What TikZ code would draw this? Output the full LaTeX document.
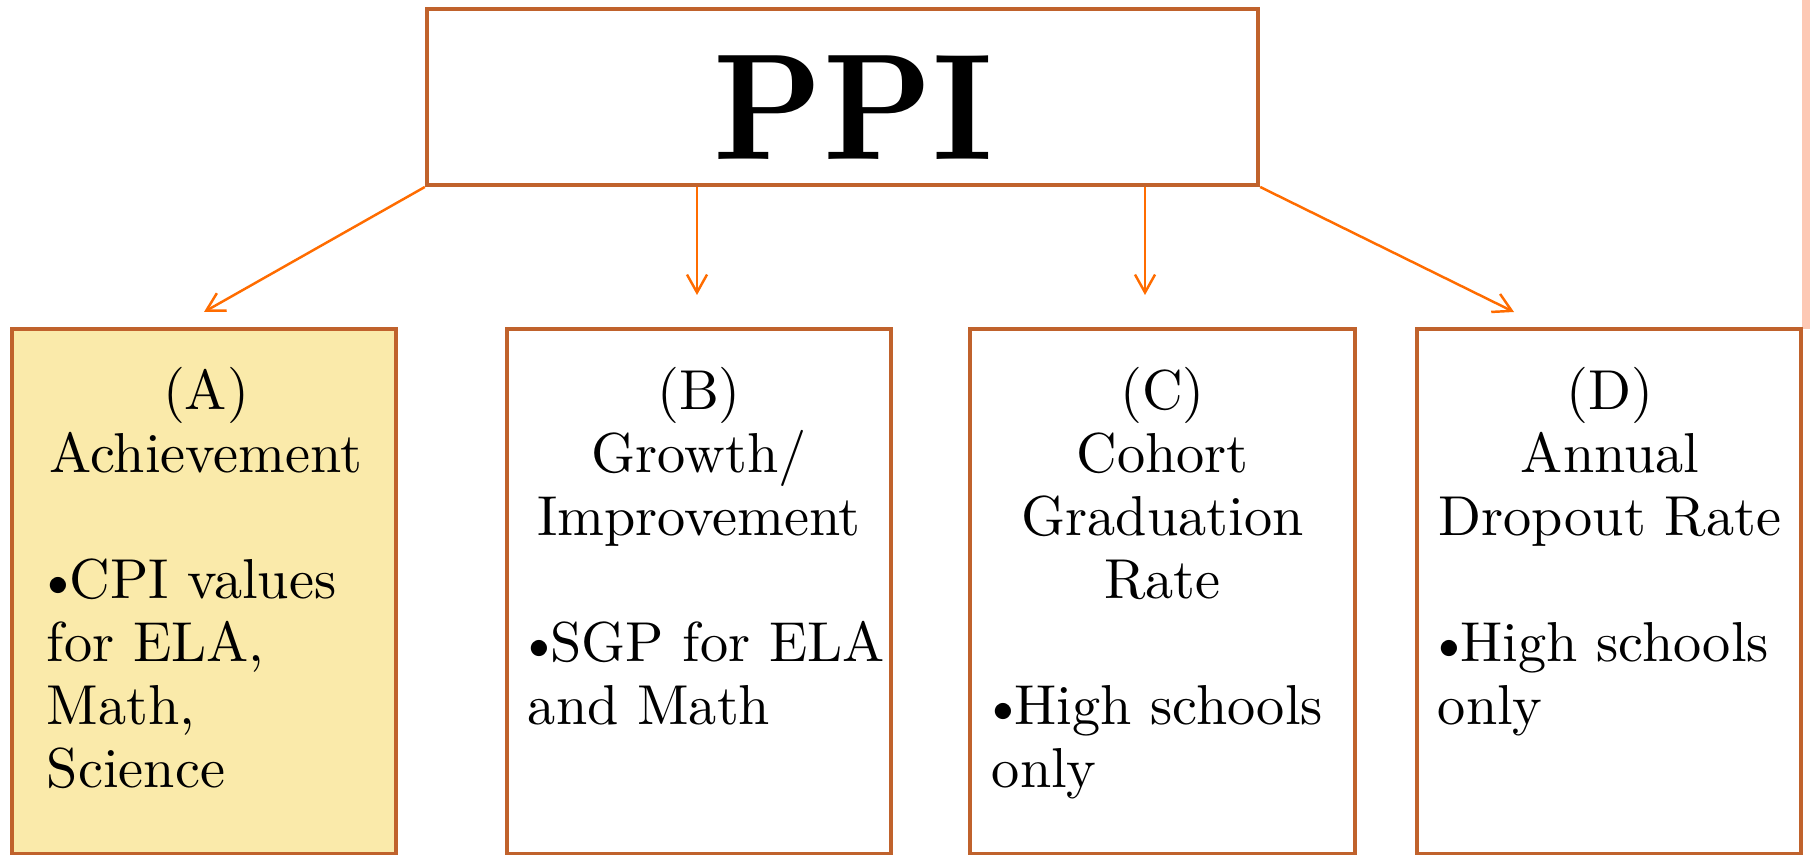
\documentclass[tikz,border=0pt]{standalone}
\usepackage{fontspec}
\usepackage{graphicx}
\setmainfont{lmroman10-regular.otf}[BoldFont=lmroman10-bold.otf]
\usetikzlibrary{arrows.meta}

\definecolor{rust}{RGB}{192,98,44}
\definecolor{flame}{RGB}{255,108,0}
\definecolor{butter}{RGB}{250,234,170}
\definecolor{blush}{RGB}{253,200,180}

\tikzset{
  panel/.style={shape=rectangle,draw=rust,fill=white,line width=1.1pt,minimum width=3.84cm,minimum height=5.25cm,inner sep=0pt},
  paneltext/.style={anchor=north,inner sep=0pt,font=\fontsize{16}{17.9}\selectfont},
  feed/.style={draw=flame,line width=0.7pt,-{Straight Barb[length=5.1pt,width=5.7pt]}}
}
\newcommand\dotmark{\leavevmode\hbox to 0.4em{\hss\textbullet\hss}}
\newcommand\panelbody[2]{{\centering #1\par}\vspace{\baselineskip}{\hsize=5cm\raggedright #2\par}}

\begin{document}
\begin{tikzpicture}[x=0.01cm,y=-0.01cm]
\useasboundingbox (0,0) rectangle (1810,855);
\fill[blush] (1802,0) rectangle (1810,329);

\node[shape=rectangle,draw=rust,line width=1.1pt,minimum width=8.31cm,minimum height=1.76cm,inner sep=0pt,text height=35.3pt,text depth=0pt,font=\fontsize{43}{43}\selectfont\bfseries] (ppi) at (842.5,97) {\hspace*{6.3pt}\scalebox{0.92}[1]{PPI}};

\node[panel,fill=butter] (achv) at (204,591.5) {};
\node[panel] (growth) at (699,591.5) {};
\node[panel] (cohort) at (1162.5,591.5) {};
\node[panel] (dropout) at (1609,591.5) {};

\node[paneltext,text width=3.18cm] (achvtext) at (206,367) {\panelbody{(A)\\Achievement}{\dotmark CPI values\\for ELA,\\Math,\\Science}};
\node[paneltext,text width=3.42cm] (growthtext) at (699,367) {\panelbody{(B)\\Growth/\\Improvement}{\dotmark SGP for ELA\\and Math}};
\node[paneltext,text width=3.41cm] (cohorttext) at (1162.5,367) {\panelbody{(C)\\Cohort\\Graduation\\Rate}{\dotmark High schools\\only}};
\node[paneltext,text width=3.44cm] (dropouttext) at (1610,367) {\panelbody{(D)\\Annual\\Dropout Rate}{\dotmark High schools\\only}};

\coordinate (tipA) at (204,312);
\coordinate (tipB) at (697,295);
\coordinate (tipC) at (1145,295);
\coordinate (tipD) at (1514,312);

\draw [feed] (ppi.south west) -- (tipA);
\draw [feed] (ppi.south -| tipB) -- (tipB);
\draw [feed] (ppi.south -| tipC) -- (tipC);
\draw [feed] (ppi.south east) -- (tipD);
\end{tikzpicture}
\end{document}
